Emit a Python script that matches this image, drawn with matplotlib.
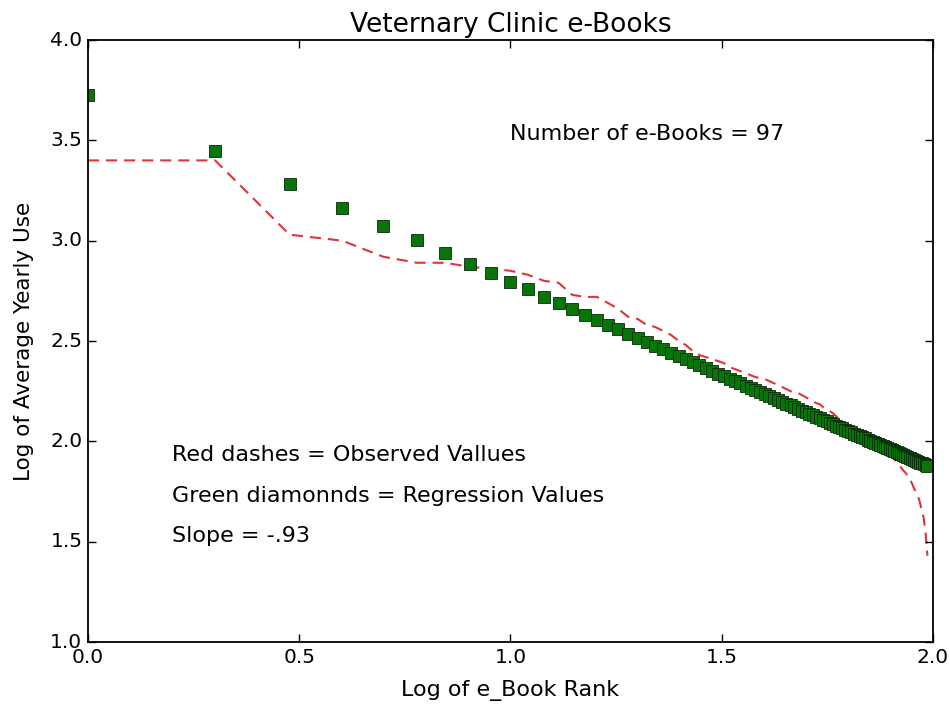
import matplotlib
matplotlib.use('Agg')
import matplotlib.pyplot as plt
import numpy as np

plt.style.use('classic')
plt.rcParams['font.family'] = ['DejaVu Sans']

# rank of each e-book (1 = most used), plotted on a log10 axis
ranks = np.arange(1, 98)

# red dashes: observed log of average yearly use
observed = [3.40, 3.40, 3.03, 3.00, 2.92, 2.89, 2.89, 2.87, 2.86, 2.85,
            2.83, 2.80, 2.79, 2.73, 2.72, 2.72, 2.69, 2.66, 2.62, 2.61,
            2.58, 2.57, 2.55, 2.53, 2.50, 2.48, 2.45, 2.43, 2.42, 2.41,
            2.40, 2.39, 2.37, 2.36, 2.35, 2.34, 2.33, 2.32, 2.315, 2.31,
            2.30, 2.29, 2.28, 2.27, 2.26, 2.25, 2.245, 2.24, 2.23, 2.22,
            2.21, 2.20, 2.19, 2.185, 2.17, 2.16, 2.15, 2.14, 2.125, 2.11,
            2.10, 2.09, 2.08, 2.065, 2.055, 2.045, 2.035, 2.025, 2.015, 2.005,
            1.995, 1.99, 1.98, 1.97, 1.96, 1.955, 1.945, 1.935, 1.93, 1.92,
            1.91, 1.895, 1.88, 1.87, 1.855, 1.845, 1.83, 1.815, 1.795, 1.77,
            1.75, 1.73, 1.70, 1.66, 1.62, 1.55, 1.43]

# green squares: regression values
regression = [3.725, 3.445, 3.281, 3.165, 3.075, 3.001, 2.939, 2.885, 2.838, 2.795,
              2.757, 2.721, 2.689, 2.659, 2.631, 2.605, 2.581, 2.558, 2.536, 2.515,
              2.495, 2.477, 2.459, 2.441, 2.425, 2.409, 2.394, 2.379, 2.365, 2.351,
              2.338, 2.325, 2.313, 2.301, 2.289, 2.278, 2.267, 2.256, 2.245, 2.235,
              2.225, 2.215, 2.206, 2.197, 2.188, 2.179, 2.170, 2.162, 2.153, 2.145,
              2.137, 2.129, 2.121, 2.114, 2.106, 2.099, 2.092, 2.085, 2.078, 2.071,
              2.065, 2.058, 2.052, 2.045, 2.039, 2.033, 2.027, 2.021, 2.015, 2.009,
              2.003, 1.998, 1.992, 1.987, 1.981, 1.976, 1.971, 1.965, 1.960, 1.955,
              1.950, 1.945, 1.940, 1.935, 1.931, 1.926, 1.921, 1.917, 1.912, 1.908,
              1.903, 1.899, 1.894, 1.890, 1.886, 1.882, 1.877]

log_rank = np.log10(ranks)

fig = plt.figure(figsize=(9.5, 7.07), dpi=100, facecolor='white')
ax = fig.add_axes([0.0926, 0.0919, 0.8895, 0.8515])
ax.set_facecolor('white')

ax.plot(log_rank, observed, color='#dd3538', linestyle='--', dashes=(8, 5), linewidth=1.5)
ax.plot(log_rank, regression, linestyle='none', marker='s', markersize=8,
        markerfacecolor='#087508', markeredgecolor='#0a2a0a', markeredgewidth=0.6)

ax.set_xlim(0, 2.0)
ax.set_ylim(1.0, 4.0)
ax.set_xticks([0.0, 0.5, 1.0, 1.5, 2.0])
ax.set_yticks([1.0, 1.5, 2.0, 2.5, 3.0, 3.5, 4.0])
ax.tick_params(direction='in', length=6, width=1, top=True, right=True,
               labelsize=14.5, pad=4)
for sp in ax.spines.values():
    sp.set_linewidth(1.3)

ax.set_title('Veternary Clinic e-Books', fontsize=19, pad=6)
ax.set_xlabel('Log of e_Book Rank', fontsize=16, labelpad=10)
ax.set_ylabel('Log of Average Yearly Use', fontsize=15.5, labelpad=12)

ax.text(1.0, 3.5, 'Number of e-Books = 97', fontsize=16)
ax.text(0.2, 1.9, 'Red dashes = Observed Vallues', fontsize=16)
ax.text(0.2, 1.7, 'Green diamonnds = Regression Values', fontsize=16)
ax.text(0.2, 1.5, 'Slope = -.93', fontsize=16)

fig.savefig('out.png', dpi=100, facecolor='white')
